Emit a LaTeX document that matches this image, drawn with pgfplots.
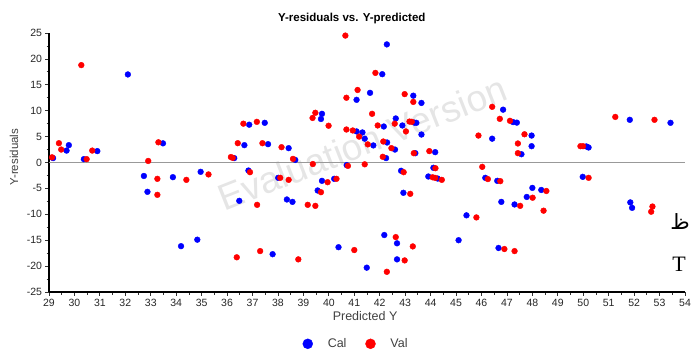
\documentclass[border=0pt]{standalone}
\usepackage{pgfplots}
\pgfplotsset{compat=1.18}
\usepackage{fontspec}
\setmainfont{Liberation Sans}
\newfontfamily\serifT{Liberation Serif}
\newfontfamily\arabicfont[Script=Arabic]{DejaVu Sans}
\TeXXeTstate=1

% Calibration set residuals (predicted Y, residual)
\pgfplotstableread{
x y
29.16 0.85
29.69 2.3
29.78 3.35
30.37 0.65
30.90 2.2
32.10 17.0
33.48 3.7
32.73 -2.6
32.87 -5.66
33.87 -2.83
34.96 -1.8
34.19 -16.15
34.83 -14.9
36.28 0.85
36.84 -1.55
38.01 -2.96
39.73 -3.54
40.21 -3.15
39.56 -5.4
36.48 -7.4
38.35 -7.14
38.57 -7.6
37.79 -17.7
40.38 -16.35
41.49 -20.3
40.70 -0.5
38.68 0.5
41.09 12.1
39.73 9.4
39.69 8.4
36.87 7.3
37.48 7.66
36.68 3.35
37.61 3.54
38.42 2.77
41.09 6.0
41.32 5.8
41.41 4.6
42.28 22.8
42.10 17.05
41.62 13.45
43.32 12.9
43.64 11.5
42.16 6.95
42.63 8.5
42.89 7.15
43.36 7.7
43.44 7.66
43.64 5.4
41.75 3.3
42.29 3.86
42.60 2.5
42.25 0.85
43.40 1.8
44.18 2.0
46.85 10.2
47.24 7.8
47.39 7.7
46.42 4.6
47.57 1.6
51.83 8.24
53.43 7.66
47.97 5.2
47.97 3.15
50.12 3.1
50.21 2.9
42.84 -1.6
44.11 -1.02
43.91 -2.7
44.28 -3.1
46.15 -2.96
46.62 -3.54
42.93 -5.85
45.41 -10.2
46.78 -7.6
47.30 -8.1
47.78 -6.65
48.00 -4.9
48.35 -5.3
42.18 -14.0
42.68 -15.6
42.68 -18.7
45.10 -15.0
46.67 -16.5
49.98 -2.77
51.85 -7.7
51.92 -8.75
}\caltable

% Validation set residuals (predicted Y, residual)
\pgfplotstableread{
x y
30.27 18.8
29.39 3.73
29.48 2.5
29.12 1.0
30.48 0.65
30.70 2.3
32.90 0.3
33.30 3.9
33.26 -3.15
33.26 -6.24
34.40 -3.35
35.27 -2.3
36.15 1.05
36.22 0.9
36.90 -1.87
38.09 -2.96
38.42 -3.35
39.95 -3.8
40.30 -3.15
39.69 -5.73
37.18 -8.17
39.17 -8.17
39.47 -8.37
36.38 -18.3
37.30 -17.1
38.80 -18.7
41.00 -16.9
39.37 -0.3
40.75 -0.65
41.41 -0.35
38.59 0.7
40.65 24.5
41.13 14.0
40.69 12.5
39.36 8.6
39.47 9.6
39.99 7.1
36.64 7.5
37.17 7.85
36.42 3.73
37.39 3.73
38.14 2.96
40.69 6.37
40.94 6.18
41.19 5.0
41.83 17.3
41.70 9.4
42.98 13.2
43.32 11.7
41.92 7.15
42.59 7.5
43.17 7.9
43.26 7.85
43.03 6.0
41.53 3.5
42.14 4.05
42.46 2.77
42.12 1.1
43.34 1.8
43.95 2.2
46.42 10.75
46.72 8.43
47.12 8.05
45.88 5.2
47.43 3.67
47.43 1.8
47.69 5.45
51.26 8.8
52.80 8.24
49.89 3.15
49.99 3.15
46.03 -0.84
42.94 -1.87
44.19 -1.1
44.08 -2.85
44.18 -2.97
44.44 -3.35
46.25 -3.2
46.74 -3.6
43.20 -6.05
45.80 -10.6
47.52 -8.37
42.63 -14.4
43.30 -16.2
42.98 -18.9
42.28 -21.1
46.90 -16.7
47.30 -17.1
48.01 -6.8
48.55 -5.5
48.44 -9.3
50.21 -2.96
52.72 -8.5
52.67 -9.5
}\valtable

\begin{document}
\begin{tikzpicture}[x=1bp,y=1bp]
\path[use as bounding box] (0,0) rectangle (692,351);
% watermark behind the plot
\node[rotate=21.5, text=black!10, font=\fontsize{37bp}{40bp}\selectfont] at (362,208) {Evaluation Version};
\begin{axis}[
  at={(49bp,59bp)}, anchor=south west,
  scale only axis, width=636bp, height=259bp,
  xmin=29, xmax=54, ymin=-25, ymax=25,
  axis x line*=bottom, axis y line*=left,
  axis line style={line width=1.6bp, black},
  xtick={29,...,54}, ytick={-25,-20,...,25},
  minor x tick num=1, minor y tick num=1,
  tick align=outside,
  major tick length=3.5bp, minor tick length=2.5bp,
  tick style={line width=0.8bp, black!80},
  ticklabel style={font=\fontsize{10.5bp}{12bp}\selectfont, text=black!85},
  /pgf/number format/assume math mode=true,
  clip=false,
  title={Y-residuals vs. Y-predicted},
  title style={at={(axis description cs:0.476,1.031)}, anchor=center, yshift=0pt,
    font=\bfseries\fontsize{11.5bp}{13bp}\selectfont},
  xlabel={Predicted Y},
  xlabel style={at={(axis description cs:0.497,-0.093)}, anchor=center,
    font=\fontsize{12.5bp}{14bp}\selectfont, text=black!75},
  ylabel={Y-residuals},
  ylabel style={at={(axis description cs:-0.055,0.521)}, anchor=center, rotate=0,
    font=\fontsize{11.5bp}{13bp}\selectfont, text=black!75},
  legend columns=2,
  legend style={at={(axis description cs:0.483,-0.2)}, anchor=center,
    draw=none, fill=none, font=\fontsize{12.5bp}{14bp}\selectfont, text=black!75,
    /tikz/every odd column/.append style={column sep=13bp},
    /tikz/every even column/.append style={column sep=17bp}},
  legend image post style={mark size=5bp},
]
\addplot[gray!80, line width=1.2bp, forget plot] coordinates {(29,0) (54,0)};
\addplot[only marks, mark=*, mark size=2.9bp, draw=blue, fill=blue] table[x=x,y=y] {\caltable};
\addlegendentry{Cal}
\addplot[only marks, mark=*, mark size=2.9bp, draw=red, fill=red] table[x=x,y=y] {\valtable};
\addlegendentry{Val}
\end{axis}
\node[font=\arabicfont\fontsize{21bp}{23bp}\selectfont] at (680,129) {\beginR ظ\endR};
\node[font=\serifT\fontsize{22bp}{24bp}\selectfont] at (679,87) {T};
\end{tikzpicture}
\end{document}
